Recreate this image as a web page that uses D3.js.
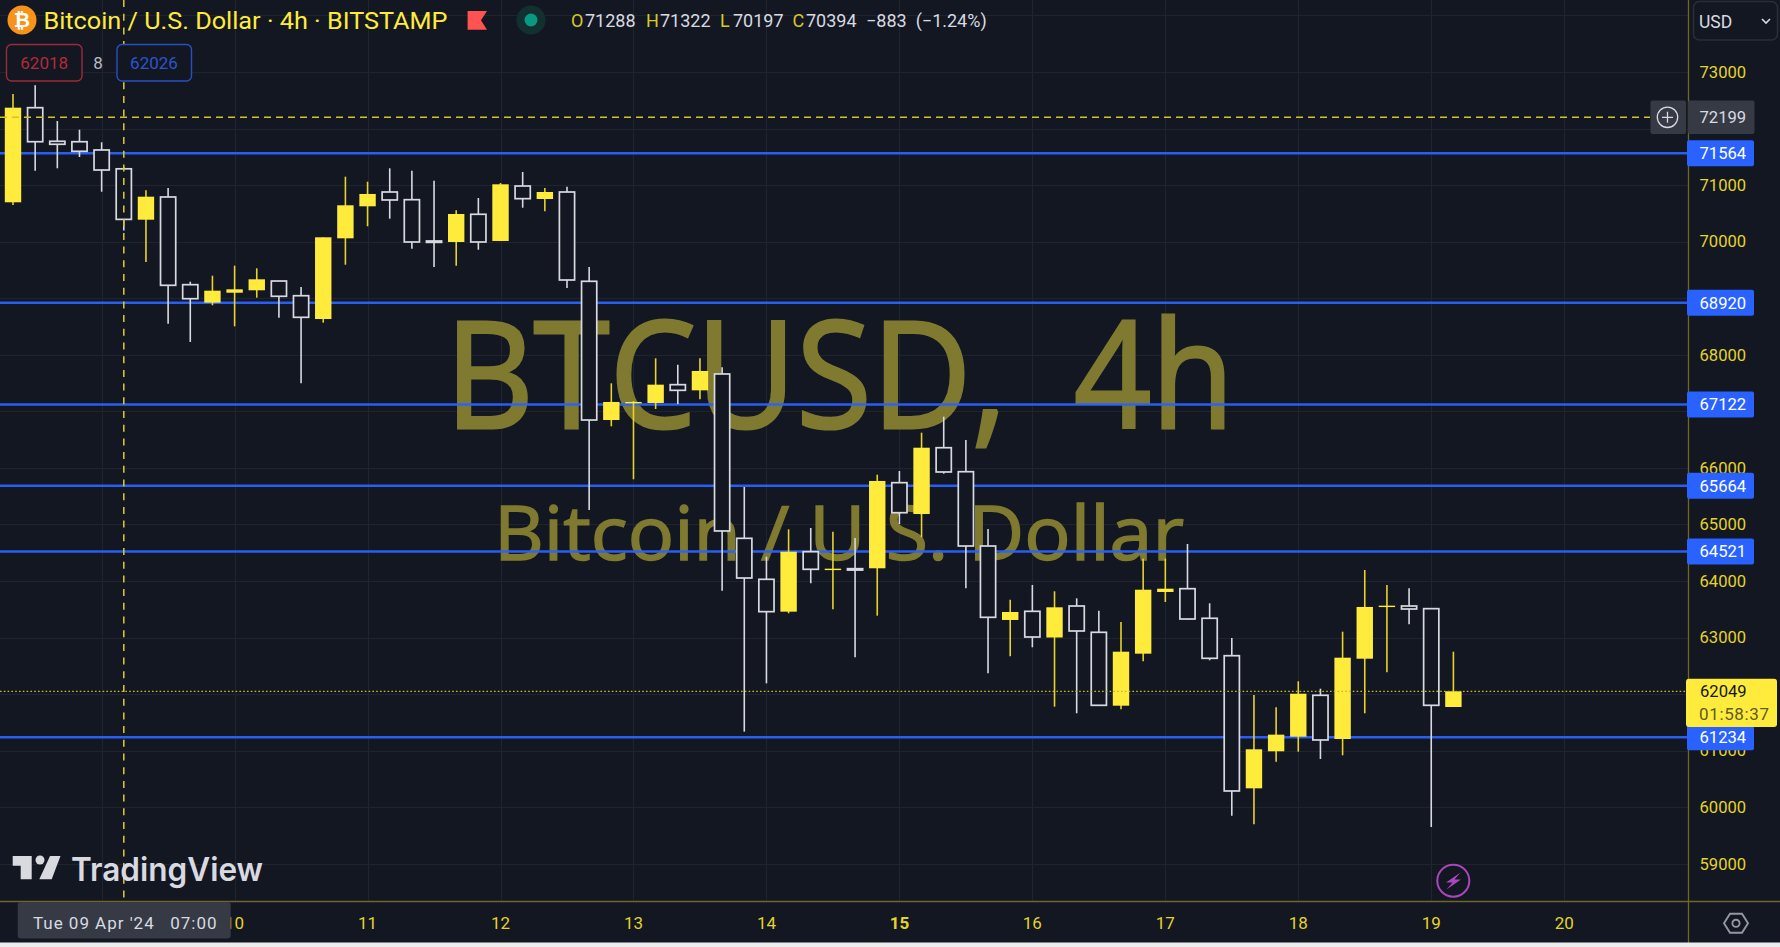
<!DOCTYPE html>
<html><head><meta charset="utf-8">
<style>html,body{margin:0;padding:0;background:#131722;overflow:hidden}svg{display:block}</style>
<script src="https://cdn.jsdelivr.net/npm/d3@7/dist/d3.min.js"></script>
</head><body><div id="c"></div>
<script>
const opens=[70696,72369,71775,71767,71621,71288,70388,70790,69239,68921,69097,69140,69304,69044,68632,70059,70625,70878,70742,70012,69994,70484,70012,70984,70754,70878,69299,66846,67142,67147,67471,67371,67660,64754,64029,63457,64517,64199,64217,64224,65738,65184,66356,65932,64618,63310,63463,63000,63557,63092,61794,62714,63805,63863,63340,62678,60333,60988,61246,61978,61205,62625,63545,63557,63510,61771];
const highs=[72611,72765,72134,71980,71757,71322,70908,70949,69292,69398,69575,69529,69304,69198,70077,71149,71060,71297,71255,71078,70554,70772,71037,71232,70949,70972,69552,67495,67182,67937,67824,67937,67778,65662,64429,64913,64937,64871,64760,65879,65944,66622,66905,66493,64919,63669,63929,63817,63693,63474,63274,64394,64394,64654,63605,62991,61983,61766,62226,62095,63103,64194,63929,63870,63516,62749];
const lows=[70648,71255,71297,71497,70883,70197,69640,68549,68226,68875,68503,69009,68655,67495,68567,69592,70272,70406,69875,69552,69575,69858,70012,70600,70537,69180,65255,66735,65798,67041,67129,67212,63828,61335,62190,63428,63959,63499,62650,63386,65007,64772,65897,63870,62367,62668,62827,61777,61660,61790,61730,62579,63628,63320,62597,59849,59697,60804,60981,60852,60917,61660,62385,63234,59649,61771];
const closes=[72369,71767,71722,71598,71267,70394,70795,69228,68991,69133,69157,69334,69034,68662,70077,70643,70843,70737,69994,69994,70489,69994,71014,70760,70878,69322,66846,67165,67165,67471,67371,67713,64884,64052,63457,64517,64206,64217,64199,65768,65207,66356,65927,64618,63357,63451,63009,63534,63115,61801,62749,63845,63863,63327,62632,60286,61023,61282,62006,61188,62643,63540,63563,63504,61801,62049];
const dayLabels=["10","11","12","13","14","15","16","17","18","19","20"];
const dayIndex=[10,16,22,28,34,40,46,52,58,64,70];
const boldDay="15";
const dayGrid=[4,10,16,22,28,34,40,46,52,58,64,70];
const gridPrices=[74000,73000,72000,71000,70000,69000,68000,67000,66000,65000,64000,63000,62000,61000,60000,59000];
const priceLabels=[73000,71000,70000,68000,66000,65000,64000,63000,61000,60000,59000];
const levels=[71564,68920,67122,65685,64521,61234];
const levelLabels=["71564","68920","67122","65664","64521","61234"];
const crossPrice=72199, crossIndex=5, lastPrice=62049, countdown="01:58:37";
const ohlcLegend=[["O","71288"],["H","71322"],["L","70197"],["C","70394"]];

const W=1780,H=947,AX=1688,BY=902;
const BG="#131722",YEL="#ffeb3b",WHT="#d8dae0",GRID="#20242f",AXC="#6e6828",BLUE="#2962ff",TICK="#e3d32b",F="Roboto, sans-serif",WM="#7f7a30";
const svg=d3.select("#c").append("svg").attr("width",W).attr("height",H);
svg.append("rect").attr("width",W).attr("height",H).attr("fill",BG);
const x=d3.scaleLinear().domain([0,65]).range([13,13+65*22.16]);
const y=d3.scaleLinear().domain([73000,59000]).range([72,863.7]);

// grid
const g=svg.append("g");
g.selectAll(".h").data(gridPrices).join("line").attr("x1",0).attr("x2",AX).attr("y1",d=>Math.round(y(d))+.5).attr("y2",d=>Math.round(y(d))+.5).attr("stroke",GRID);
g.selectAll(".v").data(dayGrid).join("line").attr("y1",0).attr("y2",BY).attr("x1",d=>Math.round(x(d))+.5).attr("x2",d=>Math.round(x(d))+.5).attr("stroke",GRID);

// watermark
const wm=(t,xp,yp,fs,len,sw)=>svg.append("text").attr("x",xp).attr("y",yp).attr("font-family","'Open Sans',sans-serif").attr("font-size",fs).attr("textLength",len).attr("lengthAdjust","spacingAndGlyphs").attr("fill",WM).attr("stroke",WM).attr("stroke-width",sw).text(t);
wm("BTCUSD,",445,428,149,562,3);
wm("4h",1074,428,149,160,3);
wm("Bitcoin / U.S. Dollar",494,560,74.5,690,1.5);

// level lines
svg.append("g").selectAll("line").data(levels).join("line").attr("x1",0).attr("x2",AX).attr("y1",d=>y(d)).attr("y2",d=>y(d)).attr("stroke",BLUE).attr("stroke-width",2.5).attr("stroke-opacity",.95);

// candles
const candles=d3.range(opens.length).map(i=>({i,o:opens[i],h:highs[i],l:lows[i],c:closes[i],up:closes[i]>=opens[i]}));
const cg=svg.append("g");
cg.selectAll(".w").data(candles).join("line").attr("x1",d=>x(d.i)).attr("x2",d=>x(d.i)).attr("y1",d=>y(d.h)).attr("y2",d=>y(d.l)).attr("stroke",d=>d.up?"#e8d22c":WHT).attr("stroke-width",1.6);
cg.selectAll(".b").data(candles).join("rect").attr("x",d=>x(d.i)-(d.up?8.2:7.6)).attr("width",d=>d.up?16.4:15.2)
 .attr("y",d=>y(Math.max(d.o,d.c))).attr("height",d=>Math.max(y(Math.min(d.o,d.c))-y(Math.max(d.o,d.c)),1.4))
 .attr("fill",d=>d.up?YEL:BG).attr("stroke",d=>d.up?"none":WHT).attr("stroke-width",1.7);

// crosshair + last price
svg.append("line").attr("x1",0).attr("x2",1650).attr("y1",y(crossPrice)).attr("y2",y(crossPrice)).attr("stroke","#d3c22a").attr("stroke-width",1.6).attr("stroke-dasharray","7,5");
svg.append("line").attr("y1",0).attr("y2",BY).attr("x1",x(crossIndex)).attr("x2",x(crossIndex)).attr("stroke","#d3c22a").attr("stroke-width",1.6).attr("stroke-dasharray","7,6.7");
svg.append("line").attr("x1",0).attr("x2",AX).attr("y1",y(lastPrice)).attr("y2",y(lastPrice)).attr("stroke","#c9b92a").attr("stroke-width",1.3).attr("stroke-dasharray","1.6,2.2");

// axes
svg.append("rect").attr("x",AX).attr("y",0).attr("width",W-AX).attr("height",H).attr("fill",BG);
svg.append("rect").attr("x",0).attr("y",BY).attr("width",W).attr("height",H-BY).attr("fill",BG);
svg.append("line").attr("x1",AX+.5).attr("x2",AX+.5).attr("y1",0).attr("y2",H-4).attr("stroke",AXC).attr("stroke-width",1.3);
svg.append("line").attr("x1",0).attr("x2",W).attr("y1",BY-.5).attr("y2",BY-.5).attr("stroke",AXC).attr("stroke-width",1.3);
svg.append("rect").attr("x",0).attr("y",H-4.5).attr("width",W).attr("height",4.5).attr("fill","#eceded");

const tickAxis=d3.axisRight(y).tickValues(priceLabels).tickSize(0).tickPadding(0).tickFormat(d3.format("d"));
const ya=svg.append("g").attr("transform",`translate(1699.5,0)`).call(tickAxis);
ya.select(".domain").remove();
ya.selectAll("text").attr("font-family",F).attr("font-size",16.6).attr("fill",TICK);

svg.append("g").selectAll("text").data(dayLabels).join("text").attr("x",(d,i)=>x(dayIndex[i])).attr("y",929).attr("text-anchor","middle")
 .attr("font-family",F).attr("font-size",17).attr("font-weight",d=>d===boldDay?700:400).attr("fill",TICK).text(d=>d);

// level tags
const tg=svg.append("g").selectAll("g").data(levels).join("g").attr("transform",d=>`translate(${AX-1},${y(d)})`);
tg.append("rect").attr("x",0).attr("y",-13).attr("width",67).attr("height",26).attr("rx",2).attr("fill",BLUE);
tg.append("text").attr("x",12.5).attr("y",6).attr("font-family",F).attr("font-size",16.6).attr("fill","#fff").text((d,i)=>levelLabels[i]);

// crosshair price tag
const cy=y(crossPrice);
svg.append("rect").attr("x",1650.5).attr("y",cy-16.7).attr("width",35.5).attr("height",33.4).attr("rx",2).attr("fill","#363a45");
svg.append("circle").attr("cx",1667.5).attr("cy",cy).attr("r",10.2).attr("fill","none").attr("stroke",WHT).attr("stroke-width",1.3);
svg.append("path").attr("d",`M1667.5 ${cy-5.5}V${cy+5.5}M1662 ${cy}H1673`).attr("stroke",WHT).attr("stroke-width",1.3);
svg.append("rect").attr("x",AX).attr("y",cy-16.7).attr("width",66.5).attr("height",33.4).attr("rx",2).attr("fill","#363a45");
svg.append("text").attr("x",1699.5).attr("y",cy+6).attr("font-family",F).attr("font-size",16.6).attr("fill",WHT).text(crossPrice);

// last price tag
const ly=y(lastPrice);
svg.append("rect").attr("x",AX-2).attr("y",ly-12.6).attr("width",91).attr("height",48.3).attr("rx",3).attr("fill",YEL);
svg.append("text").attr("x",1700).attr("y",ly+6).attr("font-family",F).attr("font-size",16.6).attr("fill","#131722").text(lastPrice);
svg.append("text").attr("x",1699).attr("y",ly+29).attr("font-family",F).attr("font-size",17).attr("textLength",70).attr("fill","#5d5a22").text(countdown);

// time tag
svg.append("rect").attr("x",17.7).attr("y",BY).attr("width",213).attr("height",36.5).attr("rx",3).attr("fill","#363a45");
svg.append("text").attr("x",33).attr("y",929).attr("xml:space","preserve").attr("font-family",F).attr("font-size",17).attr("textLength",183.5).attr("fill",WHT).text("Tue 09 Apr '24   07:00");

// header
svg.append("circle").attr("cx",22).attr("cy",20).attr("r",14.5).attr("fill","#f7931a");
svg.append("text").attr("x",22).attr("y",27).attr("text-anchor","middle").attr("font-family",F).attr("font-weight",700).attr("font-size",20).attr("fill","#fff").text("₿");
svg.append("text").attr("x",43.5).attr("y",28.5).attr("font-family",F).attr("font-size",23.5).attr("textLength",404).attr("lengthAdjust","spacingAndGlyphs").attr("fill",YEL).text("Bitcoin / U.S. Dollar · 4h · BITSTAMP");
svg.append("path").attr("d","M467.6 11H487L481 20.3L487 29.7H467.6Z").attr("fill","#ff5252");
svg.append("circle").attr("cx",531).attr("cy",20).attr("r",14.5).attr("fill","#12302f");
svg.append("circle").attr("cx",531).attr("cy",20).attr("r",6.5).attr("fill","#089981");

const lx=[571,646,720,792.4], vx=[585,660,733,806];
const lg=svg.append("g").attr("font-family",F).attr("font-size",18);
ohlcLegend.forEach((d,i)=>{lg.append("text").attr("x",lx[i]).attr("y",27).attr("fill","#d8c828").text(d[0]);lg.append("text").attr("x",vx[i]).attr("y",27).attr("fill",WHT).text(d[1]);});
lg.append("text").attr("x",866).attr("y",27).attr("fill",WHT).text("−883");
lg.append("text").attr("x",915.7).attr("y",27).attr("fill",WHT).text("(−1.24%)");

svg.append("rect").attr("x",6.5).attr("y",44.5).attr("width",75.5).attr("height",36.5).attr("rx",5).attr("fill",BG).attr("stroke","#9c2b3c").attr("stroke-width",1.4);
svg.append("text").attr("x",44.2).attr("y",69).attr("text-anchor","middle").attr("font-family",F).attr("font-size",17).attr("fill","#b22b36").text("62018");
svg.append("text").attr("x",98).attr("y",69).attr("text-anchor","middle").attr("font-family",F).attr("font-size",17).attr("fill","#b8bbc4").text("8");
svg.append("rect").attr("x",117).attr("y",44.5).attr("width",74.5).attr("height",36.5).attr("rx",5).attr("fill",BG).attr("stroke","#2850c0").attr("stroke-width",1.4);
svg.append("text").attr("x",154).attr("y",69).attr("text-anchor","middle").attr("font-family",F).attr("font-size",17).attr("fill","#2a55d0").text("62026");

// currency button
svg.append("rect").attr("x",1693.5).attr("y",1.5).attr("width",84).attr("height",38.5).attr("rx",6).attr("fill",BG).attr("stroke","#2a2e39").attr("stroke-width",1.5);
svg.append("text").attr("x",1699).attr("y",28).attr("font-family",F).attr("font-size",17.5).attr("fill",WHT).text("USD");
svg.append("path").attr("d","M1762 19L1766 23L1770 19").attr("fill","none").attr("stroke",WHT).attr("stroke-width",1.6);

// TradingView logo
svg.append("path").attr("d","M12.7 856H31.7V879.3H20.7V865.7H12.7Z").attr("fill",WHT);
svg.append("circle").attr("cx",40).attr("cy",860).attr("r",4.5).attr("fill",WHT);
svg.append("path").attr("d","M50 856H60.5L51.7 879.3H39.3Z").attr("fill",WHT);
svg.append("text").attr("x",71).attr("y",881).attr("font-family","Inter,sans-serif").attr("font-weight",600).attr("font-size",33).attr("textLength",192).attr("lengthAdjust","spacingAndGlyphs").attr("fill",WHT).text("TradingView");

// lightning badge
svg.append("circle").attr("cx",1453.3).attr("cy",880.7).attr("r",16).attr("fill",BG).attr("stroke","#ab47bc").attr("stroke-width",2);
svg.append("path").attr("d","M1460.5 872.5L1446 882.5H1452.5L1446.5 889.5L1461 879.5H1454.5Z").attr("fill","#ab47bc");

// settings hex
svg.append("path").attr("d","M1724 923.3L1730 913.8H1742L1748 923.3L1742 932.8H1730Z").attr("fill","none").attr("stroke","#9598a1").attr("stroke-width",1.9);
svg.append("circle").attr("cx",1736).attr("cy",923.3).attr("r",3.6).attr("fill","none").attr("stroke","#9598a1").attr("stroke-width",1.9);
</script></body></html>
